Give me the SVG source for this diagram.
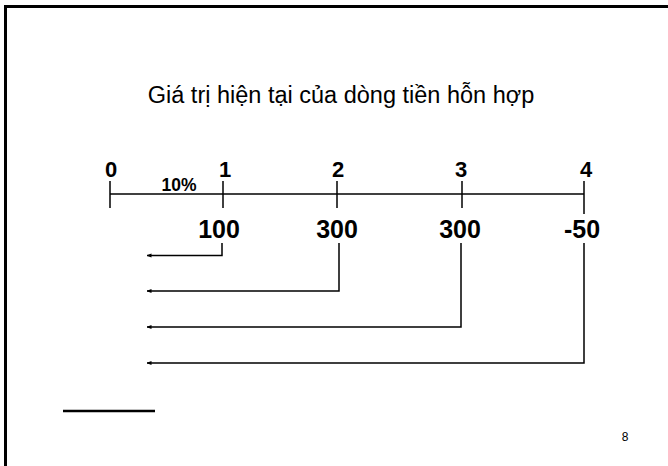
<svg xmlns="http://www.w3.org/2000/svg" width="668" height="466" viewBox="0 0 668 466">
<defs>
<style>
.ax{stroke:#000;stroke-width:1.5;fill:none}
.cn{stroke:#000;stroke-width:1.5;fill:none;marker-end:url(#ah)}
.lb{font-family:"Liberation Sans",Arial,sans-serif;font-weight:bold;fill:#000;text-anchor:middle}
.t{font-size:22px}
.v{font-size:25px}
</style>
<marker id="ah" viewBox="0 0 10 10" refX="9" refY="5" markerWidth="5" markerHeight="5" orient="auto" markerUnits="userSpaceOnUse">
<path d="M0,1 L10,5 L0,9 z" fill="#000"/>
</marker>
</defs>
<rect width="668" height="466" fill="#fff"/>
<path d="M5.5,466 V6.5 H668" stroke="#000" stroke-width="3" fill="none"/>
<text x="341" y="103" font-family="Liberation Sans,Arial,sans-serif" font-size="23.5" text-anchor="middle" fill="#000">Giá trị hiện tại của dòng tiền hỗn hợp</text>
<g id="timeline">
<line class="ax" x1="110" y1="194" x2="584" y2="194"/>
<line class="ax" x1="110" y1="181" x2="110" y2="208"/>
<line class="ax" x1="223" y1="181" x2="223" y2="208"/>
<line class="ax" x1="337" y1="181" x2="337" y2="208"/>
<line class="ax" x1="462" y1="181" x2="462" y2="208"/>
<line class="ax" x1="584" y1="181" x2="584" y2="214"/>
</g>
<g id="p0"><text class="lb t" x="111" y="177">0</text></g>
<g id="p1"><text class="lb t" x="225" y="177">1</text></g>
<g id="p2"><text class="lb t" x="338" y="177">2</text></g>
<g id="p3"><text class="lb t" x="461" y="177">3</text></g>
<g id="p4"><text class="lb t" x="586" y="177">4</text></g>
<g id="rate"><text class="lb" font-size="17.5" x="179" y="191">10%</text></g>
<g id="v1"><text class="lb v" x="219" y="238">100</text></g>
<g id="v2"><text class="lb v" x="337" y="238">300</text></g>
<g id="v3"><text class="lb v" x="460" y="238">300</text></g>
<g id="v4"><text class="lb v" x="582" y="238">-50</text></g>
<g id="connectors">
<path class="cn" d="M222,243 V255.5 H147"/>
<path class="cn" d="M339,243 V291 H147"/>
<path class="cn" d="M461,243 V327 H147"/>
<path class="cn" d="M584,243 V363 H147"/>
</g>
<line x1="63" y1="411" x2="155" y2="411" stroke="#000" stroke-width="2.5"/>
<text x="625" y="441" font-family="Liberation Sans,Arial,sans-serif" font-size="12" text-anchor="middle" fill="#000">8</text>
</svg>
